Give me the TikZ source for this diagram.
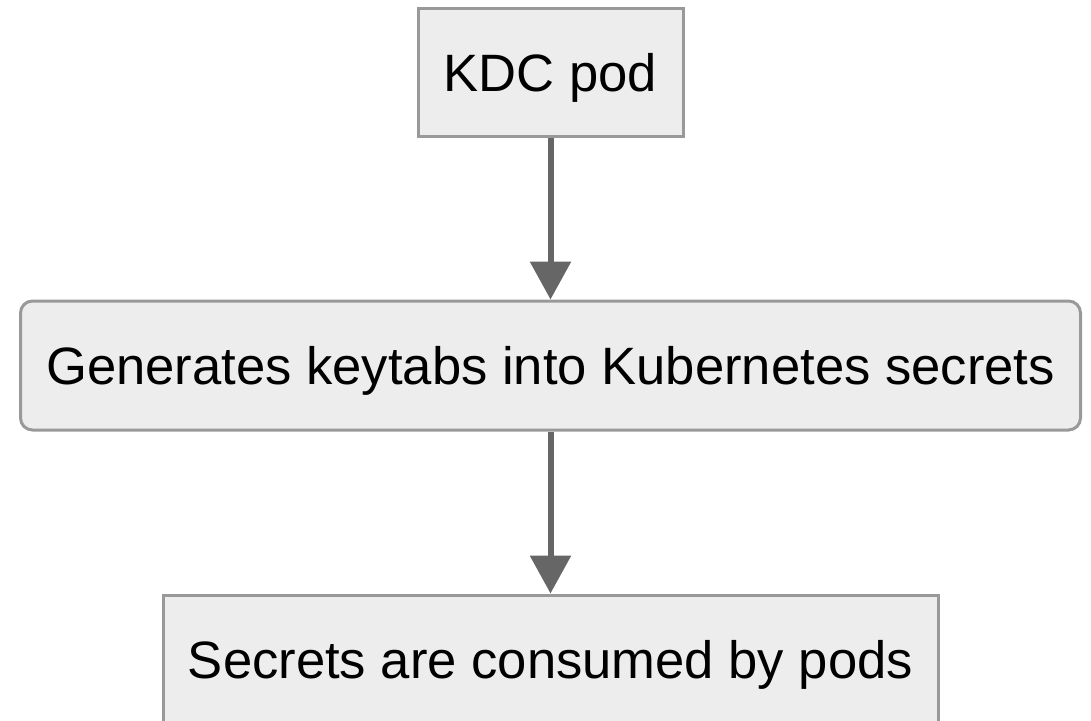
\documentclass[tikz,border=0pt]{standalone}
\usepackage{fontspec}
\setmainfont{Liberation Sans}
\usetikzlibrary{arrows.meta}

\begin{document}
\begin{tikzpicture}[x=0.5pt, y=-0.5pt,
    box/.style={draw=black!40, fill=black!7, line width=1.5pt, inner sep=0pt,
                text depth=0pt, font=\fontsize{26.3}{30}\selectfont, text=black},
    flow/.style={draw=black!60, line width=3pt, -{Triangle[length=19pt, width=20pt]}}]
  \useasboundingbox (0,0) rectangle (1091,720);
  \clip (0,0) rectangle (1091,720);
  \node [box, minimum width=132.5pt, minimum height=64pt] (kdc) at (550.5, 72) {KDC pod};
  \node [box, rounded corners=6pt, minimum width=530pt, minimum height=64.5pt] (gen) at (550.5, 365.5) {Generates keytabs into Kubernetes secrets};
  \node [box, minimum width=387.5pt, minimum height=64pt] (use) at (550.5, 659) {Secrets are consumed by pods};
  \draw [flow] (kdc) -- (gen);
  \draw [flow] (gen) -- (use);
\end{tikzpicture}
\end{document}
